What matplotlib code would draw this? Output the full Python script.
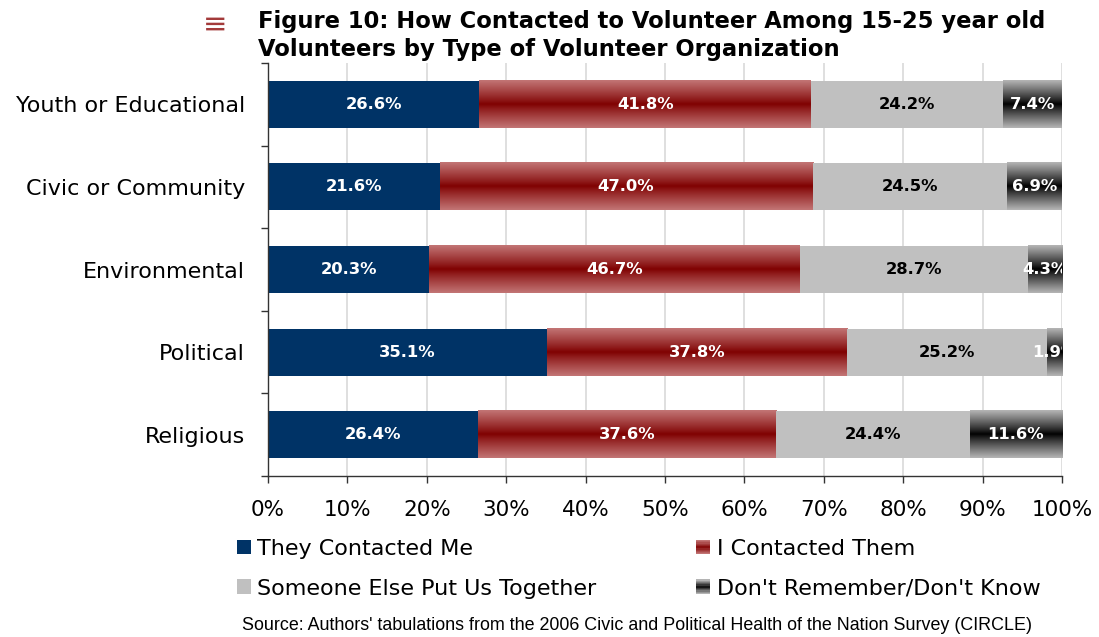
import numpy as np
import matplotlib
matplotlib.use("Agg")
import matplotlib.pyplot as plt
from matplotlib.patches import Rectangle
from matplotlib.legend_handler import HandlerBase
from matplotlib.colors import to_rgb

# ---- data -------------------------------------------------------------
categories = ["Youth or Educational", "Civic or Community", "Environmental",
              "Political", "Religious"]
series_names = ["They Contacted Me", "I Contacted Them",
                "Someone Else Put Us Together", "Don't Remember/Don't Know"]
they_contacted = [26.6, 21.6, 20.3, 35.1, 26.4]
i_contacted = [41.8, 47.0, 46.7, 37.8, 37.6]
someone_else = [24.2, 24.5, 28.7, 25.2, 24.4]
dont_know = [7.4, 6.9, 4.3, 1.9, 11.6]
x_ticks = [0, 10, 20, 30, 40, 50, 60, 70, 80, 90, 100]
x_tick_labels = [f"{t}%" for t in x_ticks]

series_values = [they_contacted, i_contacted, someone_else, dont_know]

# ---- styles -----------------------------------------------------------
NAVY = "#003366"
GRAY = "#c0c0c0"
RED_EDGE, RED_MID = "#c27474", "#7f0000"
BLK_EDGE, BLK_MID = "#b4b4b4", "#000000"
styles = [
    {"kind": "solid", "color": NAVY, "text": "white"},
    {"kind": "grad", "edge": RED_EDGE, "mid": RED_MID, "text": "white"},
    {"kind": "solid", "color": GRAY, "text": "black"},
    {"kind": "grad", "edge": BLK_EDGE, "mid": BLK_MID, "text": "white"},
]

SANS = ["DejaVu Sans"]
SOURCE_FONT = ["Liberation Sans", "DejaVu Sans"]


def gradient_rgb(edge, mid, n=64):
    t = np.abs(np.linspace(-1, 1, n))
    e = np.array(to_rgb(edge))
    m = np.array(to_rgb(mid))
    col = m[None, :] + (e - m)[None, :] * t[:, None] ** 0.9
    return col[:, None, :]


fig = plt.figure(figsize=(10.99, 6.37), dpi=100)
ax = fig.add_axes([268 / 1099, 1 - 476 / 637, 794 / 1099, 413 / 637])

bar_h = 0.57
y_pos = np.arange(len(categories))
left = np.zeros(len(categories))
for vals, st in zip(series_values, styles):
    vals = np.asarray(vals)
    for i, (y, v) in enumerate(zip(y_pos, vals)):
        x0 = left[i]
        if st["kind"] == "solid":
            ax.barh(y, v, left=x0, height=bar_h, color=st["color"],
                    edgecolor="none", zorder=2)
        else:
            ax.imshow(gradient_rgb(st["edge"], st["mid"]),
                      extent=(x0, x0 + v, y + bar_h / 2, y - bar_h / 2),
                      aspect="auto", interpolation="bilinear", zorder=2)
        ax.text(x0 + v / 2, y, f"{v:.1f}%", ha="center", va="center",
                color=st["text"], fontsize=11.8, fontweight="bold",
                family=SANS, zorder=3, clip_on=True)
    left += vals

ax.set_xlim(0, 100)
ax.set_ylim(len(categories) - 0.5, -0.5)

# axes, ticks, grid
ax.set_xticks(x_ticks)
ax.set_xticklabels(x_tick_labels, fontsize=15.5, family=SANS)
ax.tick_params(axis="x", direction="out", length=5, width=1, color="#333333",
               pad=12)
ax.set_yticks(y_pos)
ax.set_yticklabels(categories, fontsize=16, family=SANS)
ax.tick_params(axis="y", which="major", length=0, pad=16.5)
ax.set_yticks(np.arange(-0.5, len(categories)), minor=True)
ax.tick_params(axis="y", which="minor", direction="out", length=5, width=1,
               color="#333333")
ax.grid(axis="x", color="#d9d9d9", linewidth=1.2, zorder=0)
ax.set_axisbelow(True)
for s in ("top", "right"):
    ax.spines[s].set_visible(False)
for s in ("left", "bottom"):
    ax.spines[s].set_color("#333333")
    ax.spines[s].set_linewidth(1)


# legend with gradient swatches
class GradientHandler(HandlerBase):
    def __init__(self, edge, mid, n=12):
        super().__init__()
        self.edge, self.mid, self.n = edge, mid, n

    def create_artists(self, legend, orig_handle, xdescent, ydescent,
                       width, height, fontsize, trans):
        cols = gradient_rgb(self.edge, self.mid, self.n)[:, 0, :]
        arts = []
        sh = height / self.n
        for k in range(self.n):
            r = Rectangle((-xdescent, -ydescent + height - (k + 1) * sh),
                          width, sh * 1.02, facecolor=cols[k],
                          edgecolor="none", transform=trans)
            arts.append(r)
        return arts


class _Dummy:
    pass


h_they = Rectangle((0, 0), 1, 1, facecolor=NAVY, edgecolor="none")
h_some = Rectangle((0, 0), 1, 1, facecolor=GRAY, edgecolor="none")
h_i = _Dummy()
h_dk = _Dummy()
leg = ax.legend([h_they, h_some, h_i, h_dk],
                [series_names[0], series_names[2], series_names[1], series_names[3]],
                handler_map={h_i: GradientHandler(RED_EDGE, RED_MID),
                             h_dk: GradientHandler(BLK_EDGE, BLK_MID)},
                ncol=2, frameon=False, prop={"family": SANS, "size": 16},
                handlelength=0.63, handleheight=0.63, handletextpad=0.28,
                columnspacing=4.5, labelspacing=0.88,
                loc="upper left", bbox_to_anchor=(237 / 1099, 1 - 539 / 637),
                bbox_transform=fig.transFigure, borderaxespad=0,
                borderpad=0)

# title
fig.text(258 / 1099, 1 - 10 / 637,
         "Figure 10: How Contacted to Volunteer Among 15-25 year old",
         fontsize=16.3, fontweight="bold", family=SANS, ha="left", va="top")
fig.text(258 / 1099, 1 - 38 / 637,
         "Volunteers by Type of Volunteer Organization",
         fontsize=16.3, fontweight="bold", family=SANS, ha="left", va="top")
fig.text(215 / 1099, 1 - 25 / 637, "\u2261", fontsize=21, color="#a33a3a",
         family=["DejaVu Sans"], ha="center", va="center")

# source note
fig.text(242 / 1099, 1 - 626 / 637,
         "Source: Authors' tabulations from the 2006 Civic and Political "
         "Health of the Nation Survey (CIRCLE)",
         fontsize=12.9, family=SOURCE_FONT, ha="left", va="center")

fig.savefig("out.png", dpi=100)
